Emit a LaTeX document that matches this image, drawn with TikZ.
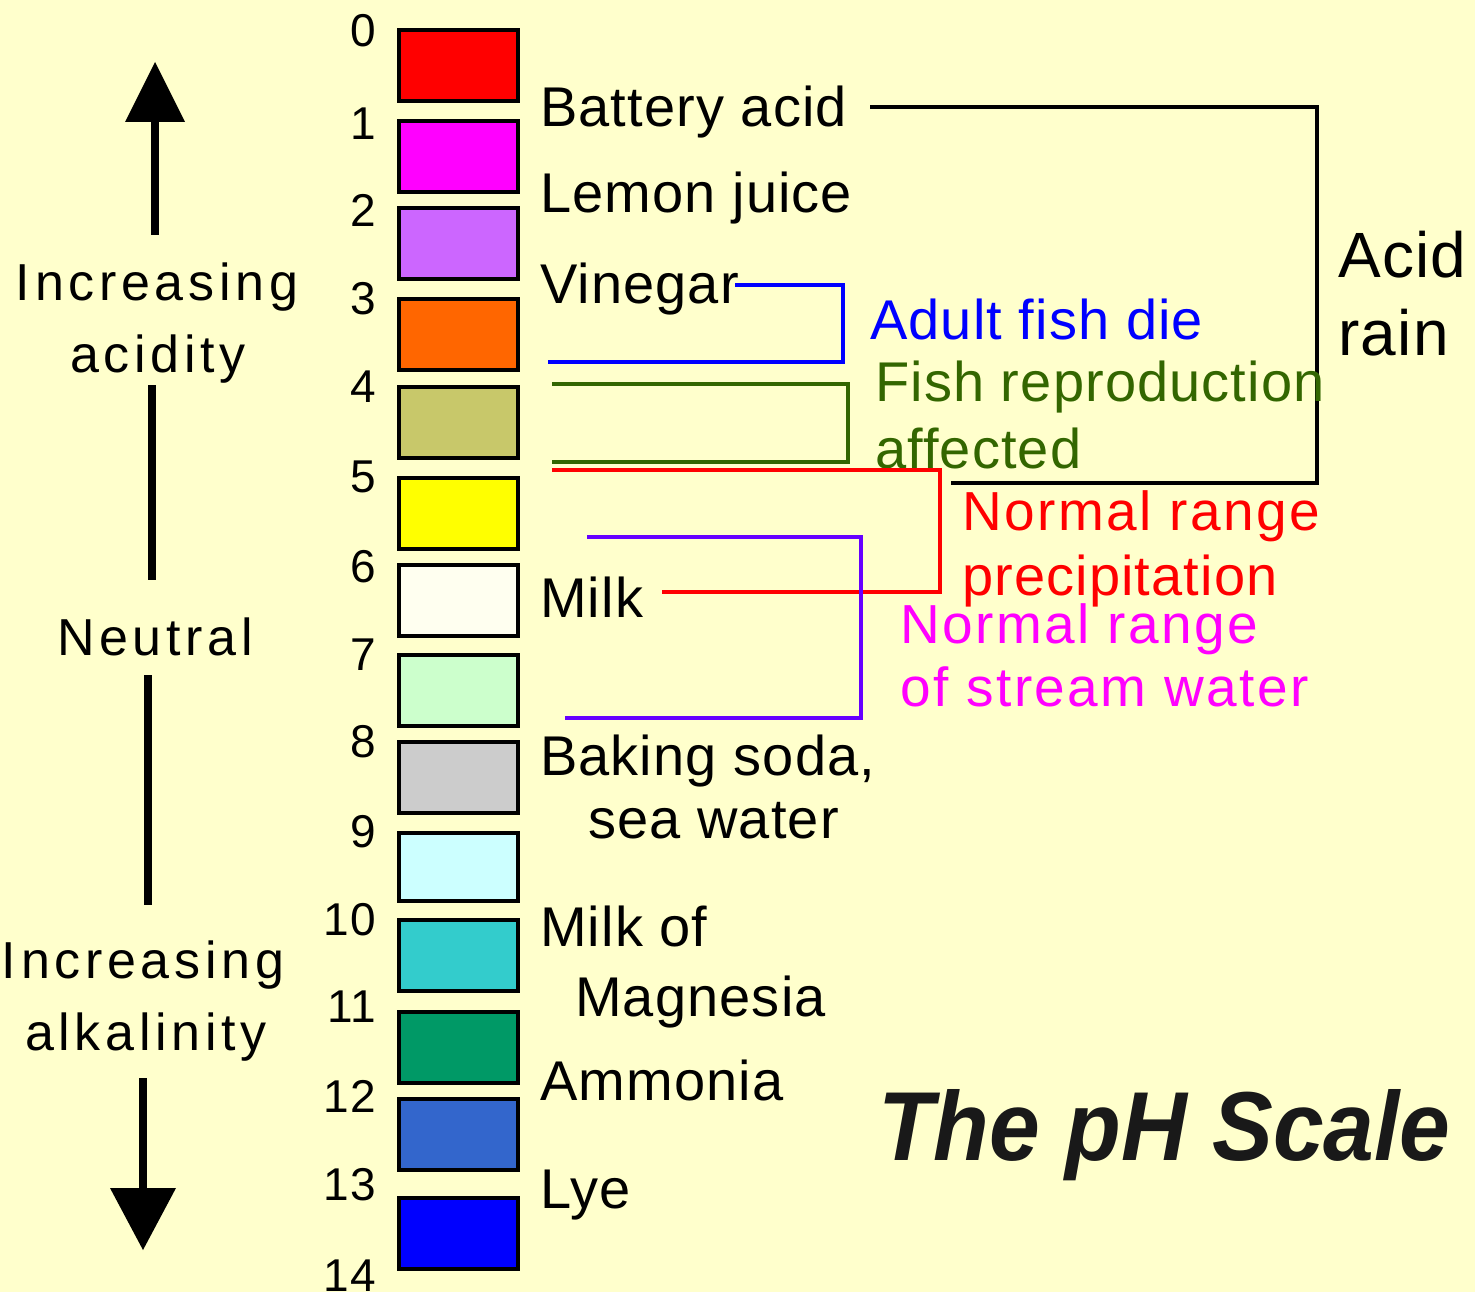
\documentclass[tikz,border=0pt]{standalone}
\usepackage{fontspec}
\setmainfont{Liberation Sans}
\newfontfamily\spaced[LetterSpace=9]{Liberation Sans}
\newfontfamily\midspaced[LetterSpace=4.5]{Liberation Sans}
\newfontfamily\lightspaced[LetterSpace=2]{Liberation Sans}
\definecolor{bg}{HTML}{FFFFCC}
\definecolor{c0}{HTML}{FF0000}
\definecolor{c1}{HTML}{FF00FF}
\definecolor{c2}{HTML}{CC66FF}
\definecolor{c3}{HTML}{FF6600}
\definecolor{c4}{HTML}{C8C86A}
\definecolor{c5}{HTML}{FFFF00}
\definecolor{c6}{HTML}{FFFFF0}
\definecolor{c7}{HTML}{CCFFCC}
\definecolor{c8}{HTML}{CCCCCC}
\definecolor{c9}{HTML}{CCFFFF}
\definecolor{c10}{HTML}{33CCCC}
\definecolor{c11}{HTML}{009966}
\definecolor{c12}{HTML}{3366CC}
\definecolor{c13}{HTML}{0000FF}
\definecolor{fishgreen}{HTML}{336600}
\definecolor{streampurple}{HTML}{6600FF}
\definecolor{streammag}{HTML}{FF00FF}
\definecolor{fishblue}{HTML}{0000FF}
\definecolor{precred}{HTML}{FF0000}
\begin{document}
\begin{tikzpicture}[x=1pt,y=-1pt,
  phbox/.style={draw=black,line width=4pt},
  num/.style={anchor=base east,inner sep=0pt,font=\fontsize{46}{50}\lightspaced},
  lab/.style={anchor=base west,inner sep=0pt,font=\fontsize{56}{60}\lightspaced},
  side/.style={anchor=base,inner sep=0pt,font=\fontsize{52}{60}\spaced},
  brk/.style={line width=3.5pt},
  big/.style={line width=8pt}]
\fill[bg] (0,0) rectangle (1475,1292);
\useasboundingbox (0,0) rectangle (1475,1292);
% boxes
\foreach \c/\t/\b in {c0/30/101,c1/121/192,c2/208/279,c3/299/370,c4/387/458,c5/478/549,c6/565/636,c7/655/726,c8/742/813,c9/833/901,c10/920/991,c11/1012/1083,c12/1099/1170,c13/1198/1269}
  \draw[phbox,fill=\c] (399,\t) rectangle (518,\b);
% numbers
\foreach \n/\y in {0/47,1/140,2/226,3/314,4/402,5/492,6/582,7/670,8/757,9/847,10/935,11/1022,12/1112,13/1200,14/1291}
  \node[num] (n\n) at (376,\y) {\n};
% labels
\node[lab] (battery) at (540,127) {Battery acid};
\node[lab] (lemon) at (540,213) {Lemon juice};
\node[lab] (vinegar) at (540,303) {Vinegar};
\node[lab] (milk) at (540,617) {Milk};
\node[lab] (baking) at (540,775) {Baking soda,};
\node[lab] (sea) at (588,838) {sea water};
\node[lab] (milkof) at (540,946) {Milk of};
\node[lab] (magn) at (575,1016) {Magnesia};
\node[lab] (ammonia) at (540,1100) {Ammonia};
\node[lab] (lye) at (540,1208) {Lye};
% brackets
\draw[brk,black] (870,107) -- (1317,107) -- (1317,483) -- (951,483);
\node[anchor=base west,inner sep=0pt,font=\fontsize{64}{70}\lightspaced] (acid) at (1338,277) {Acid};
\node[anchor=base west,inner sep=0pt,font=\fontsize{64}{70}\lightspaced] (rain) at (1338,355) {rain};
\draw[brk,fishblue] (735,285) -- (843,285) -- (843,362) -- (548,362);
\node[lab,fishblue] (fishdie) at (870,339) {Adult fish die};
\draw[brk,fishgreen] (552,384) -- (848,384) -- (848,462) -- (552,462);
\node[lab,fishgreen] (repro) at (875,401) {Fish reproduction};
\node[lab,fishgreen] (affected) at (875,468) {affected};
\draw[brk,precred] (552,470) -- (940,470) -- (940,592) -- (662,592);
\node[lab,precred,font=\fontsize{55}{60}\midspaced] (nr1) at (962,530) {Normal range};
\node[lab,precred] (precip) at (962,595) {precipitation};
\draw[brk,streampurple] (587,537) -- (861,537) -- (861,718) -- (565,718);
\node[lab,streammag,font=\fontsize{55}{60}\midspaced] (nr2) at (900,643) {Normal range};
\node[lab,streammag,font=\fontsize{55}{60}\midspaced] (stream) at (900,706) {of stream water};
% left side
\node[side] (inc1) at (157,300) {Increasing};
\node[side] (acidity) at (158,372) {acidity};
\node[side] (neutral) at (155,655) {Neutral};
\node[side] (inc2) at (143,978) {Increasing};
\node[side] (alk) at (146,1050) {alkalinity};
\coordinate (upTip) at (155,62);
\coordinate (downTip) at (143,1250);
\draw[big] (155,235) -- (155,118);
\fill (upTip) -- (185,122) -- (125,122) -- cycle;
\draw[big] (152,385) -- (152,580);
\draw[big] (148,675) -- (148,905);
\draw[big] (143,1078) -- (143,1192);
\fill (downTip) -- (110,1188) -- (176,1188) -- cycle;
% title
\node[anchor=base west,inner sep=0pt,text=black!90] (title) at (878,1160)
  {\scalebox{0.93}[1]{\fontsize{98}{100}\bfseries\itshape The pH Scale}};
\end{tikzpicture}
\end{document}
